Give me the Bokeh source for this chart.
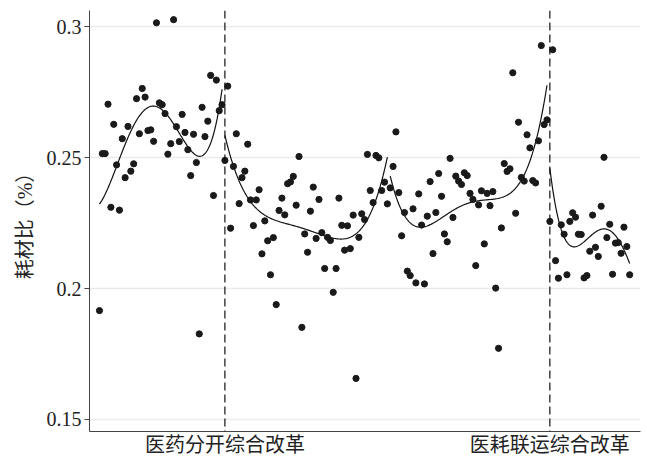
import numpy as np
from bokeh.plotting import figure
from bokeh.models import Range1d, FixedTicker, Span
from bokeh.embed import file_html
from bokeh.resources import INLINE

# ---- data ----
seg1_y = [0.1916, 0.2516, 0.2516, 0.2705, 0.2311, 0.2628, 0.2473, 0.2300, 0.2573, 0.2424,
          0.2620, 0.2449, 0.2477, 0.2726, 0.2592, 0.2765, 0.2732, 0.2604, 0.2607, 0.2563,
          0.3016, 0.2710, 0.2703, 0.2669, 0.2514, 0.2554, 0.3028, 0.2619, 0.2562, 0.2666,
          0.2597, 0.2531, 0.2432, 0.2590, 0.2482, 0.1827, 0.2693, 0.2581, 0.2640, 0.2815,
          0.2356, 0.2797, 0.2680, 0.2703]
seg2_y = [0.2490, 0.2774, 0.2231, 0.2467, 0.2592, 0.2325, 0.2424, 0.2449, 0.2552, 0.2339,
          0.2241, 0.2339, 0.2378, 0.2133, 0.2259, 0.2183, 0.2053, 0.2195, 0.1939, 0.2299,
          0.2346, 0.2282, 0.2401, 0.2408, 0.2429, 0.2319, 0.2505, 0.1852, 0.2209, 0.2139,
          0.2296, 0.2388, 0.2192, 0.2341, 0.2214, 0.2077, 0.2196, 0.2184, 0.1986, 0.2077,
          0.2346, 0.2242, 0.2147, 0.2240, 0.2153, 0.2281, 0.1657, 0.2196, 0.2286, 0.2264,
          0.2513, 0.2375, 0.2329, 0.2509, 0.2500, 0.2375, 0.2407, 0.2324]
seg3_y = [0.2385, 0.2467, 0.2599, 0.2367, 0.2202, 0.2291, 0.2067, 0.2050, 0.2305, 0.2022,
          0.2362, 0.2243, 0.2018, 0.2277, 0.2409, 0.2134, 0.2291, 0.2440, 0.2353, 0.2209,
          0.2179, 0.2498, 0.2272, 0.2430, 0.2411, 0.2398, 0.2443, 0.2432, 0.2364, 0.2341,
          0.2088, 0.2320, 0.2374, 0.2171, 0.2364, 0.2317, 0.2371, 0.2002, 0.1772, 0.2232,
          0.2478, 0.2448, 0.2458, 0.2825, 0.2288, 0.2636, 0.2425, 0.2411, 0.2588, 0.2538,
          0.2413, 0.2404, 0.2565, 0.2929, 0.2627, 0.2645]
seg4_y = [0.2257, 0.2913, 0.2107, 0.2040, 0.2244, 0.2208, 0.2053, 0.2257, 0.2290, 0.2273,
          0.2208, 0.2207, 0.2041, 0.2050, 0.2143, 0.2281, 0.2158, 0.2123, 0.2315, 0.2502,
          0.2195, 0.2246, 0.2055, 0.2174, 0.2176, 0.2135, 0.2235, 0.2161, 0.2053]

reform_x = [45, 159]
reform_labels = ["医药分开综合改革", "医耗联运综合改革"]
y_ticks = [0.15, 0.2, 0.25, 0.3]
y_tick_labels = ["0.15", "0.2", "0.25", "0.3"]
y_title = "耗材比（%）"

segments = [seg1_y, seg2_y, seg3_y, seg4_y]
fit_degree = 4  # polynomial trend fitted to each period

SERIF = "Liberation Serif, Noto Sans CJK SC"

p = figure(width=645, height=458, output_backend="svg", toolbar_location=None,
           x_range=Range1d(-2.5, 190.8), y_range=Range1d(0.1454, 0.3063),
           min_border_left=89, min_border_right=5, min_border_top=10, min_border_bottom=27)

start = 1
for seg in segments:
    xs = np.arange(start, start + len(seg))
    grid = np.linspace(xs[0], xs[-1], 150)
    coef = np.polyfit(xs, seg, fit_degree)
    fit = np.polyval(coef, grid)
    p.line(grid, fit, line_color="#111111", line_width=1.2)
    p.scatter(xs, seg, size=6.2, fill_color="#1a1a1a", line_color="#1a1a1a")
    start += len(seg)

for xr in reform_x:
    p.add_layout(Span(location=xr, dimension="height", line_color="#111111",
                      line_width=1.2, line_dash="8 4"))

p.outline_line_color = None
p.background_fill_color = "white"
p.xgrid.grid_line_color = None
p.ygrid.grid_line_color = "#ebebeb"
p.ygrid.grid_line_width = 1.3

p.xaxis.ticker = FixedTicker(ticks=reform_x)
p.xaxis.major_label_overrides = {x: l for x, l in zip(reform_x, reform_labels)}
p.xaxis.major_tick_out = 0
p.xaxis.major_tick_in = 0
p.xaxis.minor_tick_line_color = None
p.xaxis.major_label_standoff = 2
p.xaxis.major_label_text_font = SERIF
p.xaxis.major_label_text_font_size = "20px"
p.xaxis.major_label_text_color = "#222222"
p.xaxis.axis_line_color = "#444444"

p.yaxis.ticker = FixedTicker(ticks=y_ticks)
p.yaxis.major_label_overrides = {t: l for t, l in zip(y_ticks, y_tick_labels)}
p.yaxis.major_tick_out = 5
p.yaxis.major_tick_in = 0
p.yaxis.minor_tick_line_color = None
p.yaxis.major_tick_line_color = "#444444"
p.yaxis.major_label_standoff = 3
p.yaxis.major_label_text_font = SERIF
p.yaxis.major_label_text_font_size = "20px"
p.yaxis.major_label_text_color = "#222222"
p.yaxis.axis_line_color = "#444444"
p.yaxis.axis_label = y_title
p.yaxis.axis_label_text_font = SERIF
p.yaxis.axis_label_text_font_size = "20px"
p.yaxis.axis_label_text_font_style = "normal"
p.yaxis.axis_label_text_color = "#222222"
p.yaxis.axis_label_standoff = 8

open("out.html", "w").write(file_html(p, INLINE))
